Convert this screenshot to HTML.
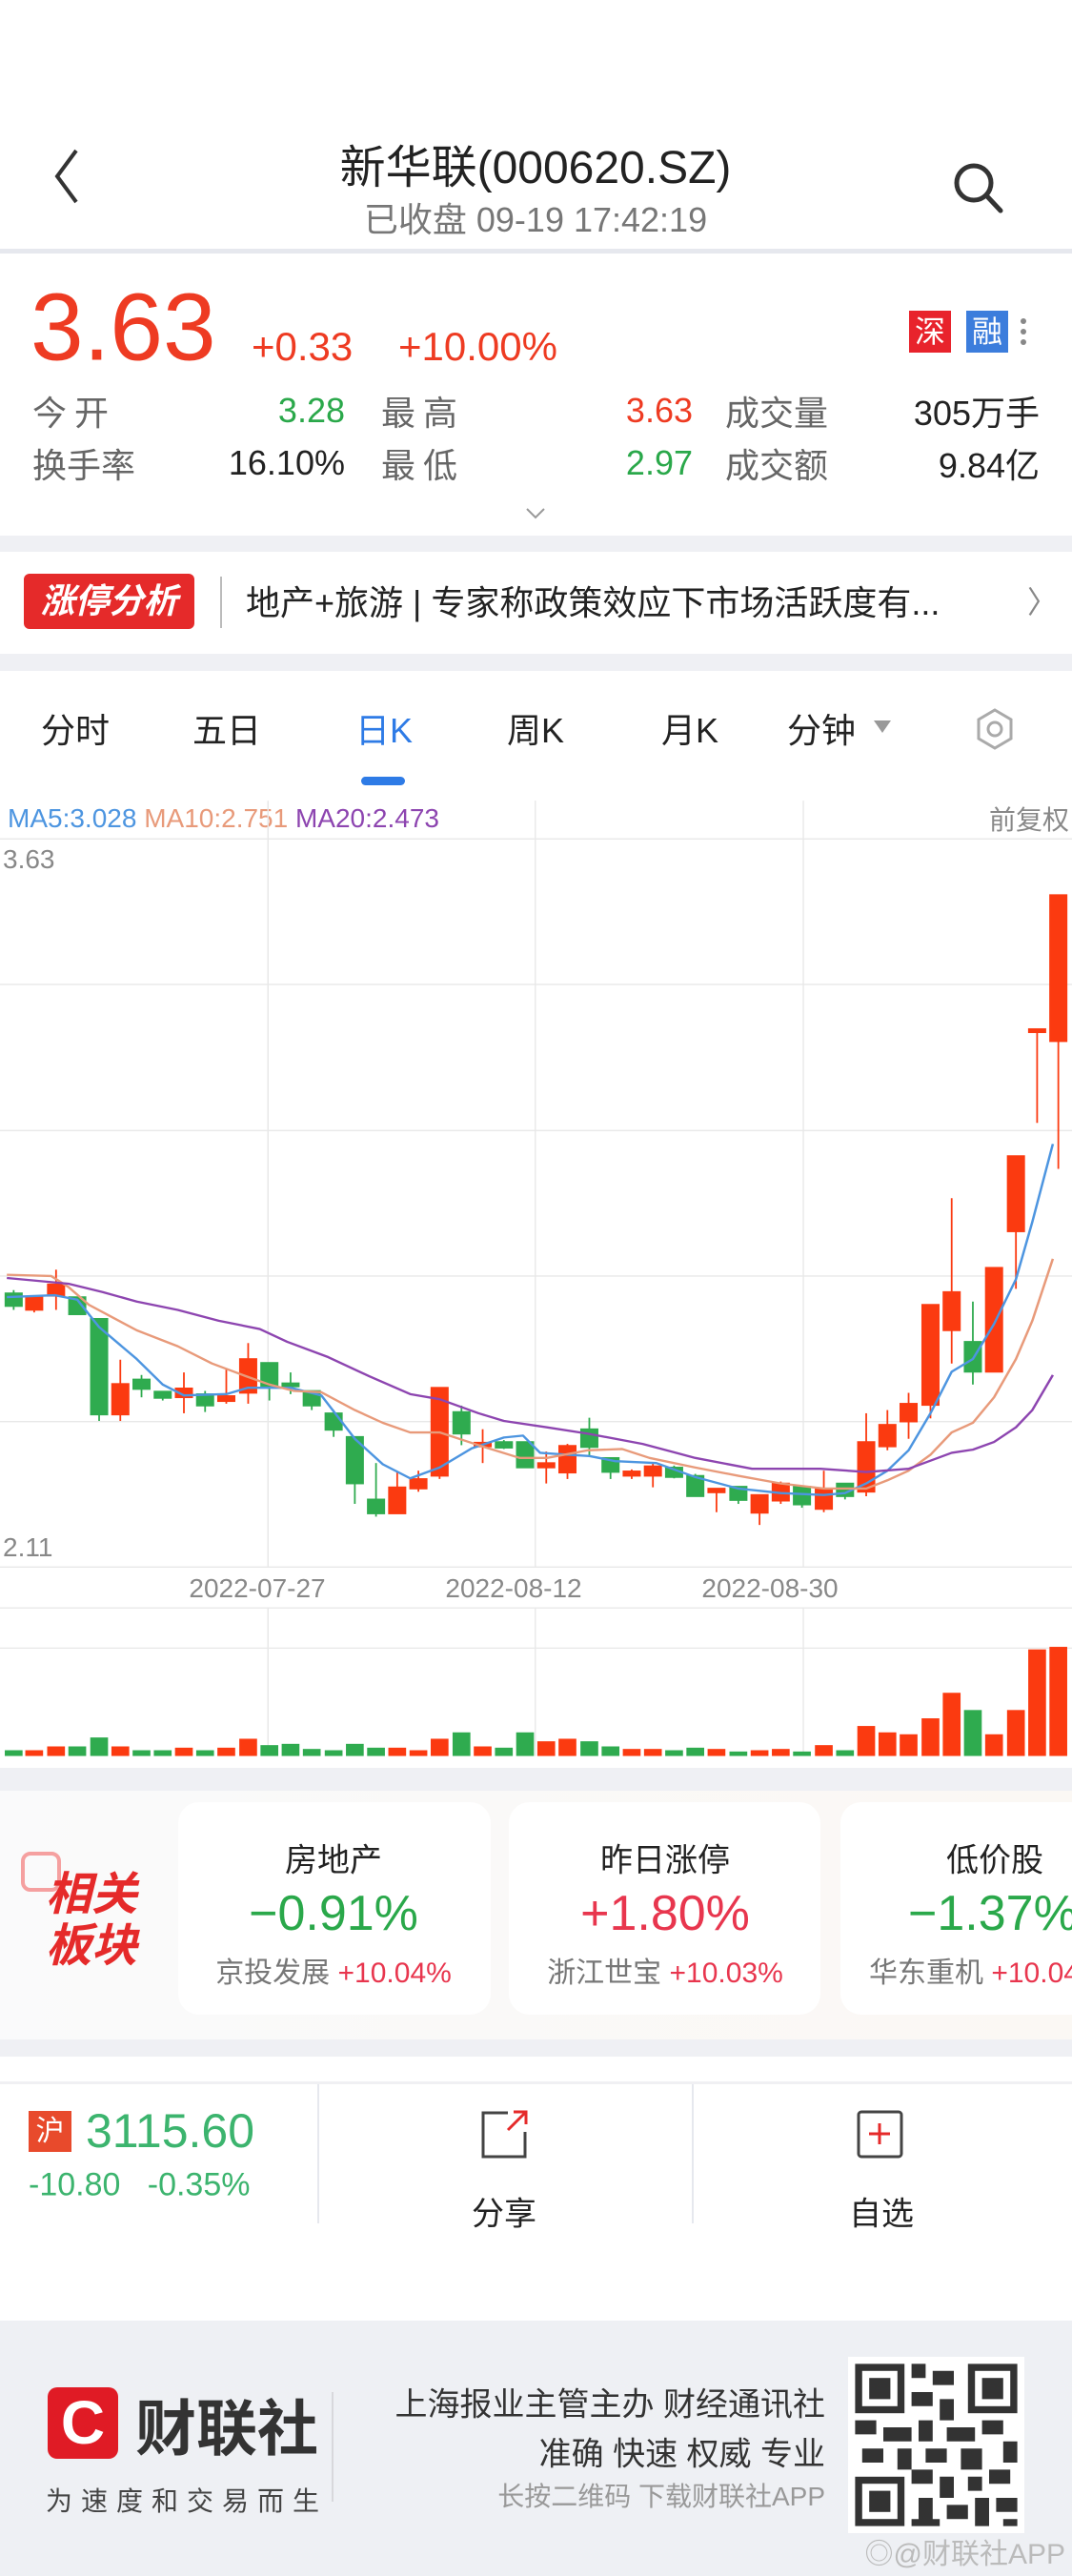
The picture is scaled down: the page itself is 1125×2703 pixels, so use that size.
<!DOCTYPE html>
<html><head><meta charset="utf-8"><style>
*{margin:0;padding:0;box-sizing:border-box}
body{width:1125px;height:2703px;position:relative;background:#fff;font-family:"Liberation Sans","Noto Sans CJK SC",sans-serif;overflow:hidden;color:#222}
.a{position:absolute;white-space:nowrap}
.c{transform:translate(-50%,-50%)}
.l{transform:translateY(-50%)}
.r{transform:translate(-100%,-50%)}
.g{color:#2aa84a}.rd{color:#ee3b22}.gy{color:#666}
</style></head><body>
<!-- header -->
<svg class="a" style="left:52px;top:150px" width="40" height="70"><polyline points="28,8 8,35 28,62" fill="none" stroke="#333" stroke-width="4"/></svg>
<div class="a c" style="left:562px;top:171px;font-size:48px;color:#222">新华联(000620.SZ)</div>
<div class="a c" style="left:562px;top:228px;font-size:36px;color:#777">已收盘 09-19 17:42:19</div>
<svg class="a" style="left:998px;top:168px" width="60" height="60"><circle cx="24" cy="24" r="18" fill="none" stroke="#333" stroke-width="5"/><line x1="37" y1="37" x2="52" y2="53" stroke="#333" stroke-width="5" stroke-linecap="round"/></svg>
<div class="a" style="left:0;top:261px;width:1125px;height:5px;background:#e6e8ee"></div>
<!-- price -->
<div class="a l rd" style="left:32px;top:344px;font-size:100px">3.63</div>
<div class="a l rd" style="left:264px;top:364px;font-size:42px">+0.33</div>
<div class="a l rd" style="left:418px;top:364px;font-size:42px">+10.00%</div>
<div class="a" style="left:954px;top:326px;width:44px;height:44px;background:#e8232c;color:#fff;font-size:32px;text-align:center;line-height:44px">深</div>
<div class="a" style="left:1014px;top:326px;width:44px;height:44px;background:#3c7ddc;color:#fff;font-size:32px;text-align:center;line-height:44px">融</div>
<div class="a" style="left:1071px;top:334px;width:6px;height:6px;border-radius:3px;background:#888;box-shadow:0 11px 0 #888,0 22px 0 #888"></div>
<div class="a l gy" style="left:34px;top:431px;font-size:36px;letter-spacing:8px">今开</div>
<div class="a r g" style="left:362px;top:431px;font-size:36px">3.28</div>
<div class="a l gy" style="left:400px;top:431px;font-size:36px;letter-spacing:8px">最高</div>
<div class="a r rd" style="left:727px;top:431px;font-size:36px">3.63</div>
<div class="a l gy" style="left:761px;top:431px;font-size:36px">成交量</div>
<div class="a r" style="left:1091px;top:431px;font-size:36px">305万手</div>
<div class="a l gy" style="left:34px;top:486px;font-size:36px">换手率</div>
<div class="a r" style="left:362px;top:486px;font-size:36px">16.10%</div>
<div class="a l gy" style="left:400px;top:486px;font-size:36px;letter-spacing:8px">最低</div>
<div class="a r g" style="left:727px;top:486px;font-size:36px">2.97</div>
<div class="a l gy" style="left:761px;top:486px;font-size:36px">成交额</div>
<div class="a r" style="left:1091px;top:486px;font-size:36px">9.84亿</div>
<svg class="a" style="left:551px;top:532px" width="22" height="14"><polyline points="2,2 11,11 20,2" fill="none" stroke="#999" stroke-width="2"/></svg>
<div class="a" style="left:0;top:562px;width:1125px;height:17px;background:#eff0f4"></div>
<!-- news -->
<div class="a" style="left:25px;top:602px;width:179px;height:58px;background:#e52a2a;border-radius:6px;color:#fff;font-size:36px;font-weight:bold;font-style:italic;text-align:center;line-height:58px">涨停分析</div>
<div class="a" style="left:231px;top:605px;width:2px;height:54px;background:#bbb"></div>
<div class="a l" style="left:258px;top:630px;font-size:36px;color:#222">地产+旅游 | 专家称政策效应下市场活跃度有...</div>
<div class="a l" style="left:1078px;top:630px;font-size:32px;color:#888">〉</div>
<div class="a" style="left:0;top:686px;width:1125px;height:18px;background:#eff0f4"></div>
<!-- tabs -->
<div class="a c" style="left:79px;top:764px;font-size:36px">分时</div>
<div class="a c" style="left:238px;top:764px;font-size:36px">五日</div>
<div class="a c" style="left:403px;top:764px;font-size:36px;color:#2e7be6">日K</div>
<div class="a c" style="left:562px;top:764px;font-size:36px">周K</div>
<div class="a c" style="left:724px;top:764px;font-size:36px">月K</div>
<div class="a c" style="left:862px;top:764px;font-size:36px">分钟</div>
<div class="a" style="left:917px;top:756px;width:0;height:0;border-left:9px solid transparent;border-right:9px solid transparent;border-top:13px solid #999"></div>
<svg class="a" style="left:1024px;top:742px" width="40" height="46"><polygon points="20,3 37,13 37,33 20,43 3,33 3,13" fill="none" stroke="#aaa" stroke-width="3"/><circle cx="20" cy="23" r="7" fill="none" stroke="#aaa" stroke-width="3"/></svg>
<div class="a" style="left:379px;top:815px;width:46px;height:9px;border-radius:5px;background:#2e7be6"></div>
<!-- chart -->
<div class="a l" style="left:8px;top:859px;font-size:28px"><span style="color:#4d95e0">MA5:3.028</span> <span style="color:#e89a7a">MA10:2.751</span> <span style="color:#8d45b0">MA20:2.473</span></div>
<div class="a r" style="left:1122px;top:859px;font-size:28px;color:#888">前复权</div>
<div class="a l" style="left:3px;top:902px;font-size:28px;color:#888">3.63</div>
<div class="a l" style="left:3px;top:1624px;font-size:28px;color:#888">2.11</div>
<div class="a c" style="left:270px;top:1667px;font-size:28px;color:#888">2022-07-27</div>
<div class="a c" style="left:539px;top:1667px;font-size:28px;color:#888">2022-08-12</div>
<div class="a c" style="left:808px;top:1667px;font-size:28px;color:#888">2022-08-30</div>
<svg class="a" style="left:0;top:820px" width="1125" height="1050" viewBox="0 0 1568 1568" preserveAspectRatio="none">
<g stroke="#e8e8e8" stroke-width="2">
<line x1="0" y1="90" x2="1568" y2="90"/><line x1="0" y1="318" x2="1568" y2="318"/><line x1="0" y1="547" x2="1568" y2="547"/><line x1="0" y1="775" x2="1568" y2="775"/><line x1="0" y1="1003" x2="1568" y2="1003"/><line x1="0" y1="1231" x2="1568" y2="1231"/><line x1="0" y1="1295" x2="1568" y2="1295"/><line x1="0" y1="1358" x2="1568" y2="1358"/>
<line x1="392" y1="30" x2="392" y2="1231"/><line x1="783" y1="30" x2="783" y2="1231"/><line x1="1175" y1="30" x2="1175" y2="1231"/>
<line x1="392" y1="1295" x2="392" y2="1527"/><line x1="783" y1="1295" x2="783" y2="1527"/><line x1="1175" y1="1295" x2="1175" y2="1527"/>
</g>
<g stroke-width="2.5">
<g fill="#2fab4f" stroke="#2fab4f">
<line x1="20" y1="797" x2="20" y2="828"/><rect x="8" y="802" width="24" height="20"/>
<line x1="113" y1="808" x2="113" y2="835"/><rect x="101" y="808" width="24" height="27"/>
<line x1="145" y1="842" x2="145" y2="1002"/><rect x="133" y="842" width="24" height="150"/>
<line x1="207" y1="930" x2="207" y2="965"/><rect x="195" y="937" width="24" height="15"/>
<line x1="238" y1="956" x2="238" y2="970"/><rect x="226" y="956" width="24" height="10"/>
<line x1="300" y1="955" x2="300" y2="988"/><rect x="288" y="960" width="24" height="18"/>
<line x1="394" y1="911" x2="394" y2="970"/><rect x="382" y="911" width="24" height="36"/>
<line x1="425" y1="926" x2="425" y2="960"/><rect x="413" y="943" width="24" height="5"/>
<line x1="456" y1="955" x2="456" y2="985"/><rect x="444" y="955" width="24" height="23"/>
<line x1="488" y1="985" x2="488" y2="1027"/><rect x="476" y="990" width="24" height="26"/>
<line x1="519" y1="1027" x2="519" y2="1132"/><rect x="507" y="1027" width="24" height="73"/>
<line x1="550" y1="1068" x2="550" y2="1152"/><rect x="538" y="1125" width="24" height="22"/>
<line x1="675" y1="978" x2="675" y2="1040"/><rect x="663" y="988" width="24" height="34"/>
<line x1="737" y1="1032" x2="737" y2="1046"/><rect x="725" y="1035" width="24" height="9"/>
<line x1="768" y1="1035" x2="768" y2="1075"/><rect x="756" y="1035" width="24" height="40"/>
<line x1="862" y1="997" x2="862" y2="1058"/><rect x="850" y="1015" width="24" height="28"/>
<line x1="893" y1="1060" x2="893" y2="1093"/><rect x="881" y="1060" width="24" height="22"/>
<line x1="986" y1="1072" x2="986" y2="1092"/><rect x="974" y="1075" width="24" height="15"/>
<line x1="1017" y1="1085" x2="1017" y2="1120"/><rect x="1005" y="1088" width="24" height="32"/>
<line x1="1080" y1="1105" x2="1080" y2="1132"/><rect x="1068" y="1105" width="24" height="21"/>
<line x1="1173" y1="1105" x2="1173" y2="1138"/><rect x="1161" y="1105" width="24" height="28"/>
<line x1="1236" y1="1100" x2="1236" y2="1125"/><rect x="1224" y="1100" width="24" height="20"/>
<line x1="1423" y1="815" x2="1423" y2="945"/><rect x="1411" y="878" width="24" height="47"/>
</g>
<g fill="#fb3a10" stroke="#fb3a10">
<line x1="50" y1="808" x2="50" y2="832"/><rect x="38" y="808" width="24" height="20"/>
<line x1="82" y1="765" x2="82" y2="828"/><rect x="70" y="788" width="24" height="18"/>
<line x1="176" y1="906" x2="176" y2="1002"/><rect x="164" y="944" width="24" height="48"/>
<line x1="269" y1="926" x2="269" y2="990"/><rect x="257" y="951" width="24" height="14"/>
<line x1="331" y1="920" x2="331" y2="975"/><rect x="319" y="963" width="24" height="8"/>
<line x1="363" y1="880" x2="363" y2="975"/><rect x="351" y="905" width="24" height="53"/>
<line x1="581" y1="1082" x2="581" y2="1147"/><rect x="569" y="1106" width="24" height="41"/>
<line x1="612" y1="1080" x2="612" y2="1113"/><rect x="600" y="1093" width="24" height="15"/>
<line x1="643" y1="950" x2="643" y2="1093"/><rect x="631" y="950" width="24" height="138"/>
<line x1="706" y1="1015" x2="706" y2="1068"/><rect x="694" y="1036" width="24" height="6"/>
<line x1="799" y1="1050" x2="799" y2="1100"/><rect x="787" y="1068" width="24" height="7"/>
<line x1="830" y1="1038" x2="830" y2="1093"/><rect x="818" y="1041" width="24" height="42"/>
<line x1="924" y1="1078" x2="924" y2="1093"/><rect x="912" y="1081" width="24" height="7"/>
<line x1="955" y1="1068" x2="955" y2="1106"/><rect x="943" y="1073" width="24" height="15"/>
<line x1="1048" y1="1108" x2="1048" y2="1145"/><rect x="1036" y="1108" width="24" height="6"/>
<line x1="1111" y1="1118" x2="1111" y2="1165"/><rect x="1099" y="1118" width="24" height="28"/>
<line x1="1142" y1="1097" x2="1142" y2="1132"/><rect x="1130" y="1100" width="24" height="27"/>
<line x1="1205" y1="1080" x2="1205" y2="1145"/><rect x="1193" y="1108" width="24" height="32"/>
<line x1="1267" y1="990" x2="1267" y2="1120"/><rect x="1255" y="1035" width="24" height="78"/>
<line x1="1298" y1="985" x2="1298" y2="1048"/><rect x="1286" y="1008" width="24" height="34"/>
<line x1="1329" y1="958" x2="1329" y2="1030"/><rect x="1317" y="975" width="24" height="28"/>
<line x1="1361" y1="820" x2="1361" y2="998"/><rect x="1349" y="820" width="24" height="157"/>
<line x1="1392" y1="653" x2="1392" y2="912"/><rect x="1380" y="800" width="24" height="60"/>
<line x1="1454" y1="762" x2="1454" y2="925"/><rect x="1442" y="762" width="24" height="163"/>
<line x1="1486" y1="587" x2="1486" y2="795"/><rect x="1474" y="587" width="24" height="118"/>
<line x1="1517" y1="388" x2="1517" y2="535"/><rect x="1505" y="388" width="24" height="5"/>
<line x1="1548" y1="178" x2="1548" y2="607"/><rect x="1536" y="178" width="24" height="229"/>
</g>
</g>
<g fill="none" stroke-width="3.5" stroke-linejoin="round">
<polyline stroke="#4d95e0" points="10,808 80,805 113,812 145,855 200,905 238,945 269,962 331,960 363,950 425,950 470,962 519,1030 560,1070 600,1092 643,1075 690,1045 737,1028 765,1025 790,1052 830,1055 862,1057 900,1065 960,1068 1017,1090 1080,1108 1142,1115 1205,1118 1236,1115 1267,1100 1298,1080 1329,1048 1361,990 1392,925 1423,905 1454,850 1486,780 1510,690 1540,568"/>
<polyline stroke="#e89a7a" points="10,773 75,775 100,792 130,820 200,860 260,885 310,912 360,932 394,945 430,955 470,957 519,985 560,1005 600,1020 643,1020 700,1040 760,1060 800,1060 860,1048 910,1046 950,1060 1017,1075 1080,1088 1142,1100 1205,1108 1267,1108 1298,1095 1329,1080 1361,1055 1392,1020 1423,1005 1454,965 1486,905 1510,845 1540,748"/>
<polyline stroke="#8d45b0" points="10,778 100,787 150,800 200,815 260,828 320,845 380,858 420,878 480,902 540,932 600,960 643,968 700,990 737,1002 800,1012 860,1022 940,1038 1017,1060 1100,1077 1200,1077 1267,1082 1329,1077 1392,1052 1423,1047 1454,1035 1486,1012 1510,985 1540,930"/>
</g>
<g fill="#2fab4f">
<rect x="7" y="1518" width="26" height="9"/><rect x="100" y="1512" width="26" height="15"/><rect x="132" y="1498" width="26" height="29"/><rect x="194" y="1518" width="26" height="9"/><rect x="225" y="1518" width="26" height="9"/><rect x="287" y="1518" width="26" height="9"/><rect x="381" y="1510" width="26" height="17"/><rect x="412" y="1508" width="26" height="19"/><rect x="443" y="1516" width="26" height="11"/><rect x="475" y="1518" width="26" height="9"/><rect x="506" y="1508" width="26" height="19"/><rect x="537" y="1514" width="26" height="13"/><rect x="662" y="1490" width="26" height="37"/><rect x="724" y="1514" width="26" height="13"/><rect x="755" y="1490" width="26" height="37"/><rect x="849" y="1504" width="26" height="23"/><rect x="880" y="1512" width="26" height="15"/><rect x="973" y="1518" width="26" height="9"/><rect x="1004" y="1514" width="26" height="13"/><rect x="1067" y="1520" width="26" height="7"/><rect x="1160" y="1520" width="26" height="7"/><rect x="1223" y="1518" width="26" height="9"/><rect x="1410" y="1455" width="26" height="72"/>
</g>
<g fill="#fb3a10">
<rect x="37" y="1518" width="26" height="9"/><rect x="69" y="1512" width="26" height="15"/><rect x="163" y="1512" width="26" height="15"/><rect x="256" y="1514" width="26" height="13"/><rect x="318" y="1514" width="26" height="13"/><rect x="350" y="1500" width="26" height="27"/><rect x="568" y="1514" width="26" height="13"/><rect x="599" y="1518" width="26" height="9"/><rect x="630" y="1500" width="26" height="27"/><rect x="693" y="1512" width="26" height="15"/><rect x="786" y="1504" width="26" height="23"/><rect x="817" y="1500" width="26" height="27"/><rect x="911" y="1516" width="26" height="11"/><rect x="942" y="1516" width="26" height="11"/><rect x="1035" y="1516" width="26" height="11"/><rect x="1098" y="1518" width="26" height="9"/><rect x="1129" y="1516" width="26" height="11"/><rect x="1192" y="1510" width="26" height="17"/><rect x="1254" y="1480" width="26" height="47"/><rect x="1285" y="1490" width="26" height="37"/><rect x="1316" y="1493" width="26" height="34"/><rect x="1348" y="1468" width="26" height="59"/><rect x="1379" y="1428" width="26" height="99"/><rect x="1441" y="1493" width="26" height="34"/><rect x="1473" y="1455" width="26" height="72"/><rect x="1504" y="1360" width="26" height="167"/><rect x="1535" y="1356" width="26" height="171"/>
</g>
</svg>
<div class="a" style="left:0;top:1855px;width:1125px;height:24px;background:#eff0f4"></div>
<!-- sectors -->
<div class="a" style="left:0;top:1879px;width:1125px;height:261px;background:linear-gradient(90deg,#fafafb,#fbf8f4)"></div>
<div class="a" style="left:22px;top:1943px;width:42px;height:42px;border:4px solid #f5a0a0;border-radius:10px"></div>
<div class="a" style="left:48px;top:1962px;font-size:48px;line-height:54px;font-weight:bold;font-style:italic;color:#e52a2a">相关<br>板块</div>
<div class="a" style="left:187px;top:1891px;width:328px;height:223px;background:#fff;border-radius:22px"></div>
<div class="a" style="left:534px;top:1891px;width:327px;height:223px;background:#fff;border-radius:22px"></div>
<div class="a" style="left:882px;top:1891px;width:300px;height:223px;background:#fff;border-radius:22px"></div>
<div class="a c" style="left:350px;top:1949px;font-size:34px">房地产</div>
<div class="a c g" style="left:350px;top:2008px;font-size:52px">−0.91%</div>
<div class="a c" style="left:350px;top:2067px;font-size:30px;color:#777">京投发展 <span style="color:#e8364e">+10.04%</span></div>
<div class="a c" style="left:698px;top:1949px;font-size:34px">昨日涨停</div>
<div class="a c" style="left:698px;top:2008px;font-size:52px;color:#e8364e">+1.80%</div>
<div class="a c" style="left:698px;top:2067px;font-size:30px;color:#777">浙江世宝 <span style="color:#e8364e">+10.03%</span></div>
<div class="a l" style="left:993px;top:1949px;font-size:34px">低价股</div>
<div class="a l g" style="left:953px;top:2008px;font-size:52px">−1.37%</div>
<div class="a l" style="left:912px;top:2067px;font-size:30px;color:#777">华东重机 <span style="color:#e8364e">+10.04%</span></div>
<div class="a" style="left:0;top:2140px;width:1125px;height:18px;background:#eff0f4"></div>
<div class="a" style="left:0;top:2184px;width:1125px;height:3px;background:#f0f0f3"></div>
<!-- bottom bar -->
<div class="a" style="left:30px;top:2215px;width:45px;height:43px;background:#e84a2c;color:#fff;font-size:30px;text-align:center;line-height:43px">沪</div>
<div class="a l" style="left:90px;top:2236px;font-size:50px;color:#3cb46e">3115.60</div>
<div class="a l" style="left:30px;top:2293px;font-size:34px;color:#3cb46e">-10.80 &nbsp; -0.35%</div>
<div class="a" style="left:333px;top:2187px;width:2px;height:146px;background:#e6e8ee"></div>
<div class="a" style="left:726px;top:2187px;width:2px;height:146px;background:#e6e8ee"></div>
<svg class="a" style="left:503px;top:2213px" width="52" height="54"><polyline points="30,4 4,4 4,50 48,50 48,24" fill="none" stroke="#444" stroke-width="3"/><line x1="30" y1="22" x2="48" y2="4" stroke="#e52a2a" stroke-width="3"/><polyline points="36,3 49,3 49,16" fill="none" stroke="#e52a2a" stroke-width="3"/></svg>
<div class="a c" style="left:529px;top:2320px;font-size:34px">分享</div>
<svg class="a" style="left:899px;top:2214px" width="50" height="52"><rect x="2" y="2" width="45" height="47" rx="3" fill="none" stroke="#444" stroke-width="3"/><line x1="24" y1="14" x2="24" y2="36" stroke="#e52a2a" stroke-width="3"/><line x1="13" y1="25" x2="35" y2="25" stroke="#e52a2a" stroke-width="3"/></svg>
<div class="a c" style="left:925px;top:2320px;font-size:34px">自选</div>
<!-- footer -->
<div class="a" style="left:0;top:2435px;width:1125px;height:268px;background:#eef0f4"></div>
<div class="a" style="left:50px;top:2505px;width:74px;height:75px;background:#e01b25;border-radius:10px;color:#fff;font-size:64px;font-weight:bold;text-align:center;line-height:75px">C</div>
<div class="a l" style="left:142px;top:2544px;font-size:64px;font-weight:bold;color:#333">财联社</div>
<div class="a l" style="left:48px;top:2623px;font-size:28px;letter-spacing:9px;color:#444">为速度和交易而生</div>
<div class="a" style="left:348px;top:2510px;width:2px;height:115px;background:#d8d8dc"></div>
<div class="a r" style="left:866px;top:2520px;font-size:34px;color:#333">上海报业主管主办 财经通讯社</div>
<div class="a r" style="left:866px;top:2572px;font-size:34px;color:#333">准确 快速 权威 专业</div>
<div class="a r" style="left:866px;top:2618px;font-size:28px;color:#999">长按二维码 下载财联社APP</div>
<svg class="a" style="left:889px;top:2473px" width="187" height="185" viewBox="0 0 25 25"><rect width="25" height="25" fill="#fff"/><g fill="#333"><rect x="1" y="1" width="7" height="7"/><rect x="17" y="1" width="7" height="7"/><rect x="1" y="17" width="7" height="7"/></g><g fill="#fff"><rect x="2" y="2" width="5" height="5"/><rect x="18" y="2" width="5" height="5"/><rect x="2" y="18" width="5" height="5"/></g><g fill="#333"><rect x="3" y="3" width="3" height="3"/><rect x="19" y="3" width="3" height="3"/><rect x="3" y="19" width="3" height="3"/><path d="M9 1h2v2h-2zM12 2h3v2h-3zM9 5h3v2h-3zM13 6h2v3h-2zM1 9h3v2h-3zM5 10h4v2h-4zM10 9h2v3h-2zM14 10h4v2h-4zM19 9h3v2h-3zM22 12h2v3h-2zM2 13h3v2h-3zM7 13h2v3h-2zM11 13h3v2h-3zM16 13h3v3h-3zM9 16h3v2h-3zM13 17h2v3h-2zM17 17h2v2h-2zM20 16h3v2h-3zM10 20h2v3h-2zM14 21h3v2h-3zM18 20h2v4h-2zM21 20h3v2h-3zM22 23h2v1h-2zM9 23h4v1h-4z"/></g></svg>
<div class="a r" style="left:1118px;top:2677px;font-size:30px;color:#bbb">◎@财联社APP</div>
</body></html>
